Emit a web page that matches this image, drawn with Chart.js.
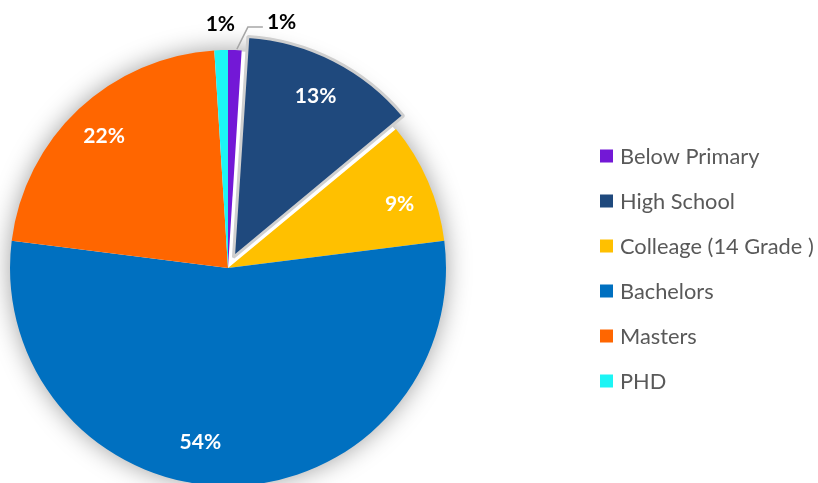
<!DOCTYPE html>
<html>
<head>
<meta charset="utf-8">
<script src="https://cdn.jsdelivr.net/npm/chart.js@4/dist/chart.umd.min.js"></script>
<style>
  html, body { margin: 0; padding: 0; background: #ffffff; }
  canvas { display: block; }
</style>
</head>
<body>
<canvas id="chart" width="818" height="483"></canvas>
<script>
// Education level shares (percent)
const categories = ['Below Primary', 'High School', 'Colleage (14 Grade )', 'Bachelors', 'Masters', 'PHD'];
const shares = [1, 13, 9, 54, 22, 1];
const sliceColors = ['#7318D6', '#1F497D', '#FFC000', '#0070C0', '#FF6600', '#1CF5F5'];

const FONT = 'Lato, "Open Sans", sans-serif';
const total = shares.reduce((a, b) => a + b, 0);

// Label placement per slice: inside (white) or outside (black)
const labelStyle = [
  { mode: 'leader' },
  { mode: 'inside', r: 0.83, nudge: 0 },
  { mode: 'inside', r: 0.84, nudge: 3 },
  { mode: 'inside', r: 0.81, nudge: 9 },
  { mode: 'inside', r: 0.83, nudge: 0 },
  { mode: 'outside', r: 1.12, nudge: 0 }
];

// Soft halo behind the whole pie
const pieShadow = {
  id: 'pieShadow',
  beforeDatasetsDraw(chart) {
    const arc = chart.getDatasetMeta(0).data[0];
    if (!arc) return;
    const { x, y, outerRadius } = arc.getProps(['x', 'y', 'outerRadius'], true);
    const ctx = chart.ctx;
    ctx.save();
    ctx.shadowColor = 'rgba(0,0,0,0.4)';
    ctx.shadowBlur = 26;
    ctx.fillStyle = '#ffffff';
    ctx.beginPath();
    ctx.arc(x, y, outerRadius - 1, 0, Math.PI * 2);
    ctx.fill();
    ctx.restore();
  }
};

// Percentage labels drawn from each arc's geometry
const sliceLabels = {
  id: 'sliceLabels',
  afterDatasetsDraw(chart) {
    const ctx = chart.ctx;
    const ds = chart.data.datasets[0];
    const meta = chart.getDatasetMeta(0);
    ctx.save();
    ctx.font = 'bold 21px ' + FONT;
    ctx.textBaseline = 'middle';
    meta.data.forEach((arc, i) => {
      const p = arc.getProps(['x', 'y', 'startAngle', 'endAngle', 'outerRadius'], true);
      // Chart.js translates an arc by a quarter of its offset option
      const off = (Array.isArray(ds.offset) ? ds.offset[i] : 0) / 4;
      const mid = (p.startAngle + p.endAngle) / 2;
      const cx = p.x + Math.cos(mid) * off;
      const cy = p.y + Math.sin(mid) * off;
      const text = Math.round(ds.data[i] / total * 100) + '%';
      const st = labelStyle[i];
      if (st.mode === 'inside' || st.mode === 'outside') {
        const a = mid + st.nudge * Math.PI / 180;
        const lx = cx + Math.cos(a) * p.outerRadius * st.r;
        const ly = cy + Math.sin(a) * p.outerRadius * st.r;
        ctx.fillStyle = st.mode === 'inside' ? '#ffffff' : '#000000';
        ctx.textAlign = 'center';
        ctx.fillText(text, lx, ly);
      } else {
        const sx = cx + Math.cos(mid) * (p.outerRadius + 1) + 2;
        const sy = cy + Math.sin(mid) * (p.outerRadius + 1);
        const ex = sx + 11, ey = sy - 22;
        const hx = ex + 15;
        ctx.strokeStyle = '#A6A6A6';
        ctx.lineWidth = 1.5;
        ctx.beginPath();
        ctx.moveTo(sx, sy);
        ctx.lineTo(ex, ey);
        ctx.lineTo(hx, ey);
        ctx.stroke();
        ctx.fillStyle = '#000000';
        ctx.textAlign = 'left';
        ctx.fillText(text, hx + 4, ey - 5);
      }
    });
    ctx.restore();
  }
};

// Vertical legend to the right of the pie
const sideLegend = {
  id: 'sideLegend',
  afterDraw(chart) {
    const ctx = chart.ctx;
    const x0 = 600, y0 = 156, step = 45, box = 13;
    ctx.save();
    ctx.font = '21.8px ' + FONT;
    ctx.textBaseline = 'middle';
    ctx.textAlign = 'left';
    chart.data.labels.forEach((lab, i) => {
      const y = y0 + i * step;
      ctx.fillStyle = chart.data.datasets[0].backgroundColor[i];
      ctx.fillRect(x0, y - box / 2, box, box);
      ctx.fillStyle = '#595959';
      ctx.fillText(lab, x0 + 20, y + 1);
    });
    ctx.restore();
  }
};

new Chart(document.getElementById('chart'), {
  type: 'pie',
  data: {
    labels: categories,
    datasets: [{
      data: shares,
      backgroundColor: sliceColors,
      borderColor: ['#ffffff', '#CFCFCF', '#ffffff', '#ffffff', '#ffffff', '#ffffff'],
      borderWidth: [0, 3, 0, 0, 0, 0],
      offset: [0, 48, 0, 0, 0, 0]
    }]
  },
  options: {
    responsive: false,
    animation: false,
    radius: 218,
    layout: { padding: { left: 0, right: 362, top: 53, bottom: 0 } },
    plugins: {
      legend: { display: false },
      tooltip: { enabled: false }
    }
  },
  plugins: [pieShadow, sliceLabels, sideLegend]
});
</script>
</body>
</html>
